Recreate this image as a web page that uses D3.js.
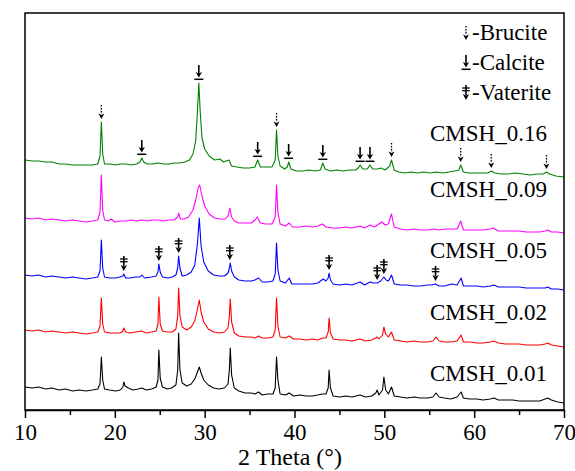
<!DOCTYPE html>
<html>
<head>
<meta charset="utf-8">
<script src="https://cdn.jsdelivr.net/npm/d3@7"></script>
<style>
  html, body { margin: 0; padding: 0; background: #fff; }
  svg { display: block; }
  text { font-family: "Liberation Serif", "Times New Roman", serif; fill: #000; }
</style>
</head>
<body>
<svg id="chart" width="575" height="471"></svg>
<script>
// XRD patterns, intensity in a.u. per sample: [2θ, intensity]
const cmsh001 = [[10,23],[10.8,22],[11.5,23],[12.3,21],[13,22],[13.8,20],[14.5,21],[15.3,19],[16,20],[16.8,19],[17.5,20],[18.1,21],[18.35,26],[18.5,53],[18.65,30],[18.85,21],[19.4,20],[20.1,19],[20.6,20],[20.9,23],[21.0,28],[21.15,24],[21.5,22],[22,20],[22.6,21],[23.0,22],[23.5,20],[24.1,21],[24.6,23],[24.8,30],[24.9,60],[25.05,32],[25.3,23],[25.8,21],[26.3,22],[26.8,25],[27.0,40],[27.1,77],[27.25,40],[27.5,27],[28,24],[28.5,26],[28.9,31],[29.2,38],[29.4,43],[29.6,37],[29.9,30],[30.4,25],[31,22],[31.6,21],[32.2,22],[32.6,26],[32.75,40],[32.85,62],[33.0,35],[33.3,22],[33.8,19],[34.5,17],[35.2,17],[35.6,16],[36.0,18],[36.4,15],[37.0,16],[37.6,16],[37.85,22],[38.0,53],[38.15,30],[38.4,16],[39.0,15],[39.4,17],[39.9,14],[40.6,15],[41.3,14],[42,14],[42.6,15],[43.1,16],[43.5,16],[43.75,22],[43.85,40],[44.0,22],[44.3,14],[45,13],[45.7,14],[46.4,13],[47.3,15],[47.9,13],[48.6,14],[49.05,17],[49.2,20],[49.4,15],[49.8,20],[49.95,33],[50.15,20],[50.45,16],[50.8,23],[51.1,14],[51.8,13],[52.5,12],[53.3,13],[54,12],[54.8,12],[55.4,13],[55.75,17],[56.1,13],[56.7,12],[57.4,11],[58.1,13],[58.55,18],[58.8,12],[59.5,11],[60.3,11],[61,10],[61.8,11],[62.2,12],[62.7,10],[63.5,10],[64.3,10],[65,9],[65.8,9],[66.5,9],[67.3,9],[67.9,11],[68.2,12],[68.6,10],[69.3,8],[70,7]];

const cmsh002 = [[10,24],[10.8,23],[11.5,24],[12.3,22],[13,23],[13.8,22],[14.5,21],[15.3,22],[16,21],[16.8,20],[17.5,21],[18.1,22],[18.35,28],[18.5,56],[18.65,30],[18.85,22],[19.4,21],[20.1,21],[20.6,21],[20.9,23],[21.0,26],[21.2,22],[21.7,21],[22.3,22],[23.0,23],[23.5,21],[24.1,22],[24.6,23],[24.8,30],[24.9,57],[25.05,30],[25.3,23],[25.9,22],[26.4,22],[26.8,25],[27.0,38],[27.1,66],[27.25,38],[27.5,27],[28,24],[28.5,27],[28.9,33],[29.2,45],[29.4,54],[29.6,42],[29.9,32],[30.4,25],[31,22],[31.6,21],[32.2,22],[32.6,26],[32.75,38],[32.85,55],[33.0,32],[33.3,21],[33.8,18],[34.5,17],[35.2,17],[35.6,16],[36.0,18],[36.4,16],[37.0,16],[37.6,17],[37.85,24],[38.0,56],[38.15,28],[38.4,17],[39.0,16],[39.4,18],[39.9,15],[40.6,15],[41.3,14],[42,15],[42.6,14],[43.1,16],[43.5,16],[43.75,22],[43.85,36],[44.0,21],[44.3,15],[45,14],[45.7,14],[46.4,13],[47.3,15],[47.9,13],[48.6,14],[49.05,16],[49.2,17],[49.4,15],[49.8,19],[49.95,27],[50.15,20],[50.45,17],[50.8,22],[51.1,14],[51.8,13],[52.5,12],[53.3,13],[54,12],[54.8,12],[55.4,13],[55.75,17],[56.1,13],[56.7,12],[57.4,12],[58.1,13],[58.55,19],[58.8,12],[59.5,12],[60.3,11],[61,11],[61.8,12],[62.2,13],[62.7,11],[63.5,10],[64.3,10],[65,10],[65.8,9],[66.5,9],[67.3,9],[67.9,10],[68.2,11],[68.6,9],[69.3,8],[70,7]];

const cmsh005 = [[10,23],[10.8,22],[11.5,23],[12.3,21],[13,22],[13.8,21],[14.5,20],[15.3,21],[16,20],[16.8,19],[17.5,20],[18.1,21],[18.35,27],[18.5,58],[18.65,30],[18.85,21],[19.4,20],[20.1,20],[20.6,21],[20.9,22],[21.0,24],[21.2,20],[21.7,20],[22.3,21],[22.8,21],[23.0,23],[23.3,20],[24.1,21],[24.6,22],[24.8,26],[24.9,34],[25.05,26],[25.3,21],[25.9,20],[26.4,21],[26.8,23],[27.0,30],[27.1,42],[27.25,30],[27.5,22],[28,23],[28.5,26],[28.9,33],[29.2,55],[29.4,80],[29.6,52],[29.9,36],[30.4,27],[31,23],[31.6,22],[32.2,22],[32.6,25],[32.75,30],[32.85,35],[33.0,27],[33.3,21],[33.8,18],[34.5,17],[35.2,17],[35.6,18],[36.0,20],[36.4,16],[37.0,16],[37.6,17],[37.85,24],[38.0,55],[38.15,28],[38.4,17],[39.0,15],[39.4,20],[39.7,14],[40.6,14],[41.3,14],[42,14],[42.6,15],[43.2,19],[43.5,17],[43.75,20],[43.85,25],[44.0,18],[44.3,14],[45,13],[45.7,14],[46.4,13],[47.3,16],[47.8,13],[48.4,16],[48.8,15],[49.2,15],[49.6,17],[49.95,21],[50.2,18],[50.45,17],[50.8,23],[51.1,14],[51.8,13],[52.5,13],[53.3,12],[54,12],[54.8,13],[55.3,13],[55.7,14],[56.1,12],[56.7,12],[57.5,14],[58.1,13],[58.55,20],[58.8,12],[59.5,12],[60.3,12],[61,11],[61.8,12],[62.2,13],[62.7,11],[63.5,11],[64.3,11],[65,11],[65.8,10],[66.5,10],[67.3,10],[67.9,10],[68.2,11],[68.6,9],[69.3,9],[70,8]];

const cmsh009 = [[10,24],[10.8,23],[11.5,24],[12.3,22],[13,23],[13.8,22],[14.5,21],[15.3,22],[16,21],[16.8,20],[17.5,21],[18.1,22],[18.35,30],[18.5,67],[18.65,32],[18.85,22],[19.3,21],[19.6,23],[20.0,20],[20.6,21],[21.2,21],[21.8,22],[22.4,21],[23.0,22],[23.6,21],[24.2,22],[24.8,22],[25.4,21],[26.0,22],[26.6,22],[27.0,25],[27.1,29],[27.3,23],[27.7,23],[28.2,25],[28.7,32],[29.0,42],[29.3,55],[29.45,57],[29.7,46],[30.0,36],[30.5,28],[31.1,24],[31.7,23],[32.3,23],[32.65,27],[32.8,34],[33.0,25],[33.3,21],[33.8,19],[34.5,19],[35.2,19],[35.6,22],[35.85,25],[36.2,19],[36.8,18],[37.5,18],[37.85,25],[38.0,57],[38.15,30],[38.4,18],[39.0,16],[39.4,19],[39.8,15],[40.6,15],[41.3,16],[42,15],[42.6,16],[43.1,18],[43.5,15],[44.2,14],[45,14],[45.7,15],[46.4,14],[47.3,16],[47.8,14],[48.4,17],[48.9,15],[49.7,20],[50.1,17],[50.45,18],[50.8,28],[51.1,15],[51.8,13],[52.5,12],[53.3,13],[54,12],[54.8,12],[55.5,13],[56.1,12],[56.7,13],[57.5,13],[58.1,13],[58.5,21],[58.8,12],[59.5,12],[60.3,12],[61,12],[61.8,13],[62.1,14],[62.7,11],[63.5,11],[64.3,11],[65,11],[65.8,10],[66.5,10],[67.3,10],[67.9,11],[68.2,12],[68.6,10],[69.3,10],[70,9]];

const cmsh016 = [[10,26],[10.8,25],[11.5,25],[12.3,24],[13,24],[13.8,22],[14.5,22],[15.3,21],[16,21],[16.8,21],[17.5,21],[18.1,22],[18.35,30],[18.5,64],[18.65,32],[18.85,22],[19.4,22],[20.1,21],[20.6,22],[21.2,22],[21.8,21],[22.4,22],[22.8,24],[23.0,28],[23.2,24],[23.6,22],[24.2,22],[24.8,23],[25.4,22],[26.0,22],[26.6,23],[27.2,23],[27.8,24],[28.3,26],[28.7,32],[29.0,45],[29.2,75],[29.35,103],[29.5,75],[29.7,48],[30.0,37],[30.5,30],[31.1,26],[31.7,27],[32.1,24],[32.7,26],[33.0,20],[33.6,19],[34.3,18],[35.0,18],[35.6,19],[35.9,26],[36.2,19],[36.8,19],[37.5,19],[37.85,26],[38.0,56],[38.15,30],[38.4,20],[38.9,17],[39.2,19],[39.35,24],[39.6,17],[40.2,15],[40.9,15],[41.6,16],[42.3,15],[42.9,16],[43.15,23],[43.4,17],[44.0,15],[44.7,16],[45.4,15],[46.1,16],[46.8,16],[47.1,18],[47.3,21],[47.6,17],[48.1,17],[48.4,21],[48.7,17],[49.3,17],[49.6,18],[50.1,16],[50.6,20],[50.8,26],[51.1,16],[51.6,14],[52.3,13],[53.0,14],[53.7,13],[54.4,14],[55.1,13],[55.8,14],[56.5,13],[57.2,14],[57.8,15],[58.3,16],[58.5,21],[58.8,14],[59.4,13],[60.1,13],[60.8,13],[61.5,13],[61.9,15],[62.3,13],[63,12],[63.8,12],[64.6,13],[65.4,12],[66.2,11],[67,12],[67.7,12],[68.05,14],[68.4,12],[69.1,10],[70,9]];

// Sample names, bottom to top, and the vertical offset used to stack them
const sampleNames = ["CMSH_0.01", "CMSH_0.02", "CMSH_0.05", "CMSH_0.09", "CMSH_0.16"];
const sampleOffsets = [0, 56, 112, 168, 224];
const sampleColors = ["#000000", "#ff0000", "#0000ff", "#ff00ff", "#008000"];
const samples = [cmsh001, cmsh002, cmsh005, cmsh009, cmsh016];

// Phase markers: 2θ positions and the sample they are drawn on
const brucitePeaks = [18.5, 38.0, 50.8, 58.5, 61.9, 68.05];
const calcitePeaks = [23.0, 29.35, 35.9, 39.35, 43.15, 47.3, 48.4];
const vateritePeaks = [21.0, 24.9, 27.1, 32.8, 43.85, 49.2, 49.95, 55.7];
const phaseNames = ["Brucite", "Calcite", "Vaterite"];

const xTicks = [10, 20, 30, 40, 50, 60, 70];
const xMinorTicks = [15, 25, 35, 45, 55, 65];

const svg = d3.select("#chart");
const plot = { left: 25, right: 564, top: 13, bottom: 410 };

const x = d3.scaleLinear().domain([10, 70]).range([plot.left, plot.right]);
const y = d3.scaleLinear().domain([0, plot.bottom - plot.top]).range([plot.bottom, plot.top]);

// traces
const line = d3.line().x(d => x(d[0])).y(d => y(d[1]));
samples.forEach((s, i) => {
  const off = sampleOffsets[i];
  svg.append("path")
    .datum(s.map(d => [d[0], d[1] + off]))
    .attr("fill", "none")
    .attr("stroke", sampleColors[i])
    .attr("stroke-width", 1.1)
    .attr("stroke-linejoin", "round")
    .attr("d", line);
});

// sample labels, placed a fixed height above each stacked trace
const labelLevels = [29, 34, 40, 45, 45];
sampleNames.forEach((n, i) => {
  svg.append("text")
    .attr("x", 430)
    .attr("y", y(sampleOffsets[i] + labelLevels[i]))
    .attr("font-size", 23)
    .text(n);
});

// phase symbols, bottom of the symbol at (0,0)
function drawSymbol(g, type) {
  if (type === "Brucite") {
    g.append("line").attr("x1", 0).attr("x2", 0).attr("y1", -14).attr("y2", -5)
      .attr("stroke", "#000").attr("stroke-width", 1.3).attr("stroke-dasharray", "1.6,1.3");
    g.append("path").attr("d", "M-3,-5.5L0,0L3,-5.5L0,-4Z").attr("fill", "#000");
  } else if (type === "Calcite") {
    g.append("line").attr("x1", 0).attr("x2", 0).attr("y1", -15).attr("y2", -6)
      .attr("stroke", "#000").attr("stroke-width", 1.6);
    g.append("path").attr("d", "M-3.2,-8L0,-2.5L3.2,-8L0,-6.5Z").attr("fill", "#000");
    g.append("line").attr("x1", -4.5).attr("x2", 4.5).attr("y1", -0.7).attr("y2", -0.7)
      .attr("stroke", "#000").attr("stroke-width", 1.5);
  } else {
    g.append("line").attr("x1", 0).attr("x2", 0).attr("y1", -15).attr("y2", -5)
      .attr("stroke", "#000").attr("stroke-width", 1.6);
    g.append("line").attr("x1", -3.8).attr("x2", 3.8).attr("y1", -12).attr("y2", -12)
      .attr("stroke", "#000").attr("stroke-width", 1.3);
    g.append("line").attr("x1", -3.8).attr("x2", 3.8).attr("y1", -9.3).attr("y2", -9.3)
      .attr("stroke", "#000").attr("stroke-width", 1.3);
    g.append("path").attr("d", "M-3.2,-6L0,0L3.2,-6L0,-4.5Z").attr("fill", "#000");
  }
}

// peak height of a sample near a given 2θ
function peakTop(i, t) {
  const pts = samples[i].filter(d => Math.abs(d[0] - t) <= 0.3);
  return d3.max(pts, d => d[1]) + sampleOffsets[i];
}

const markerSets = [
  { type: "Brucite", peaks: brucitePeaks, sample: 4 },
  { type: "Calcite", peaks: calcitePeaks, sample: 4 },
  { type: "Vaterite", peaks: vateritePeaks, sample: 2 }
];
markerSets.forEach(m => {
  m.peaks.forEach(t => {
    const g = svg.append("g")
      .attr("transform", `translate(${x(t)},${y(peakTop(m.sample, t)) - 3})`);
    drawSymbol(g, m.type);
  });
});

// legend
phaseNames.forEach((p, i) => {
  const by = 40 + i * 30;
  const g = svg.append("g").attr("transform", `translate(466,${by})`);
  drawSymbol(g, p);
  svg.append("text").attr("x", 472).attr("y", by).attr("font-size", 23).text("-" + p);
});

// frame
svg.append("rect")
  .attr("x", plot.left).attr("y", plot.top)
  .attr("width", plot.right - plot.left).attr("height", plot.bottom - plot.top)
  .attr("fill", "none").attr("stroke", "#000").attr("stroke-width", 1.5);

// bottom axis
const axisMajor = d3.axisBottom(x).tickValues(xTicks).tickSize(8).tickSizeOuter(0).tickPadding(6);
const gx = svg.append("g").attr("transform", `translate(0,${plot.bottom})`).call(axisMajor);
gx.select(".domain").attr("stroke", "#000").attr("stroke-width", 1.5);
gx.selectAll(".tick line").attr("stroke", "#000").attr("stroke-width", 1.5);
gx.selectAll(".tick text").attr("font-size", 23).attr("font-family", "Liberation Serif").attr("fill", "#000");

const axisMinor = d3.axisBottom(x).tickValues(xMinorTicks).tickSize(5).tickSizeOuter(0).tickFormat("");
const gm = svg.append("g").attr("transform", `translate(0,${plot.bottom})`).call(axisMinor);
gm.select(".domain").remove();
gm.selectAll(".tick line").attr("stroke", "#000").attr("stroke-width", 1.5);

svg.append("text")
  .attr("x", 290).attr("y", 465)
  .attr("text-anchor", "middle")
  .attr("font-size", 24)
  .text("2 Theta (°)");
</script>
</body>
</html>
